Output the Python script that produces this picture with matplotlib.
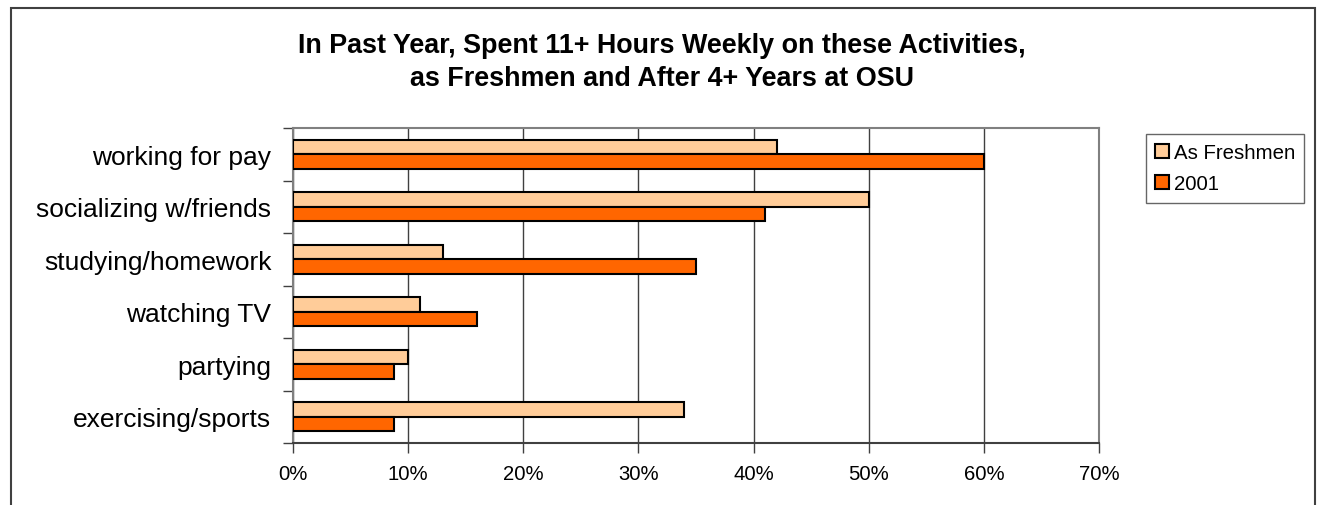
import matplotlib
matplotlib.use('Agg')
import matplotlib.pyplot as plt
import numpy as np
from matplotlib.patches import Rectangle

plt.rcParams['font.family'] = ['Liberation Sans', 'DejaVu Sans']

activities = ['working for pay', 'socializing w/friends', 'studying/homework',
              'watching TV', 'partying', 'exercising/sports']
freshmen = [42, 50, 13, 11, 10, 34]
year_2001 = [60, 41, 35, 16, 8.8, 8.8]
xticks = [0, 10, 20, 30, 40, 50, 60, 70]

fig = plt.figure(figsize=(13.19, 5.06), dpi=100)
ax = fig.add_axes([293 / 1319, 62 / 506, 806 / 1319, 315 / 506])

# outer chart border
fig.patches.append(Rectangle((11 / 1319, -0.05), 1304 / 1319, 1.05 - 9 / 506,
                             transform=fig.transFigure, fill=False,
                             edgecolor='#404040', linewidth=1.5))

y = np.arange(len(activities))
h = 0.276
ax.barh(y - h / 2, freshmen, height=h, color='#FFCC99', edgecolor='black',
        linewidth=1.5, label='As Freshmen', zorder=3)
ax.barh(y + h / 2, year_2001, height=h, color='#FF6600', edgecolor='black',
        linewidth=1.5, label='2001', zorder=3)

ax.set_xlim(0, 70)
ax.set_ylim(len(activities) - 0.5, -0.5)
ax.set_xticks(xticks)
ax.set_xticklabels([f'{t}%' for t in xticks], fontsize=14.6)
ax.set_yticks(y)
ax.set_yticklabels(activities, fontsize=19)
ax.set_yticks(np.arange(len(activities) + 1) - 0.5, minor=True)
ax.tick_params(axis='y', which='major', length=0, pad=15.5)
ax.tick_params(axis='y', which='minor', length=7, width=1, color='#404040')
ax.tick_params(axis='x', length=7, width=1, color='#404040', pad=8)
ax.xaxis.grid(True, color='#404040', linewidth=1, zorder=0)
for s in ['top', 'right', 'left']:
    ax.spines[s].set_color('#808080')
    ax.spines[s].set_linewidth(1.5)
ax.spines['bottom'].set_color('#404040')
ax.spines['bottom'].set_linewidth(1.5)

fig.text(662 / 1319, 1 - 46 / 506, 'In Past Year, Spent 11+ Hours Weekly on these Activities,',
         ha='center', va='center', fontsize=19.4, fontweight='bold')
fig.text(662 / 1319, 1 - 79 / 506, 'as Freshmen and After 4+ Years at OSU',
         ha='center', va='center', fontsize=19.4, fontweight='bold')

leg = fig.legend(loc='upper left', bbox_to_anchor=(1146 / 1319, 1 - 135 / 506),
                 fontsize=14.7, frameon=True, fancybox=False, edgecolor='#404040',
                 handlelength=0.7, handleheight=0.7, handletextpad=0.2,
                 borderpad=0.45, labelspacing=0.6, borderaxespad=0)
leg.get_frame().set_linewidth(1)

fig.savefig('out.png', dpi=100)
